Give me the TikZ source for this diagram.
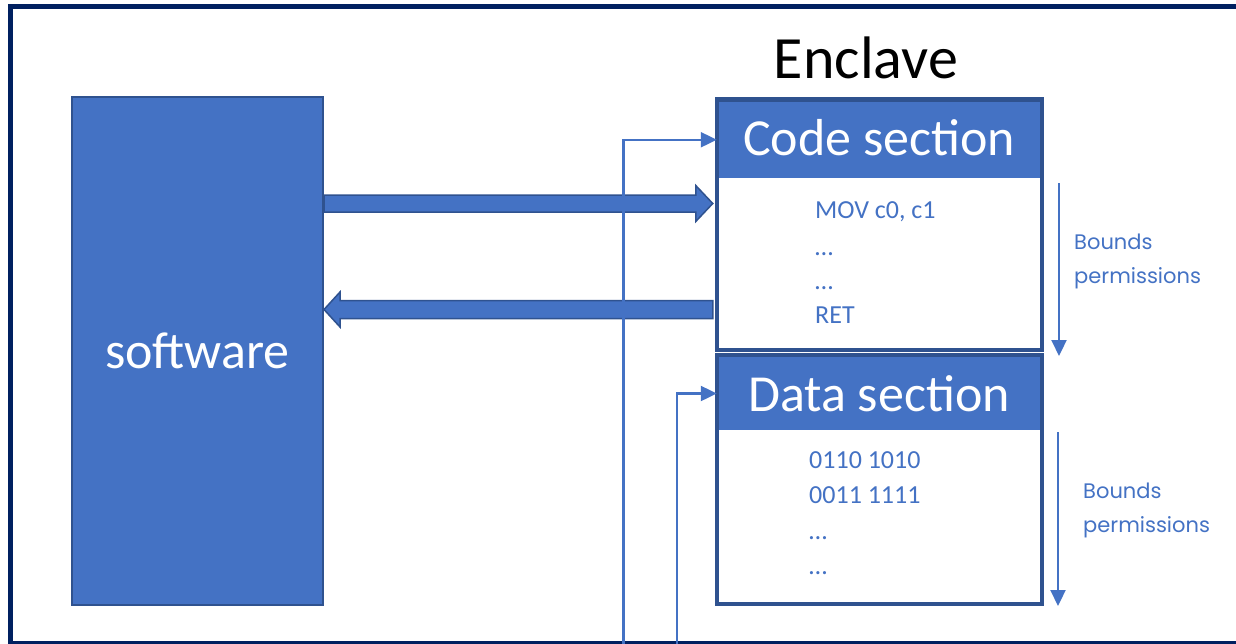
\documentclass[tikz,border=0pt]{standalone}
\usepackage{fontspec}
\setmainfont{Carlito}
\newfontfamily\boundsfont{Poppins}
\usetikzlibrary{arrows.meta,calc}
\definecolor{accent}{HTML}{4472C4}
\definecolor{accentdark}{HTML}{2F528F}
\definecolor{navy}{HTML}{002060}
\tikzset{
  blockbox/.style={draw=accentdark, line width=2pt, fill=accent, inner sep=0pt},
  secframe/.style={draw=accentdark, line width=4.5pt, fill=white, inner sep=0pt},
  sechead/.style={fill=accent, inner sep=0pt, text=white,
    font=\fontsize{52}{60}\selectfont},
  codeline/.style={anchor=base west, inner sep=0pt, text=accent,
    font=\fontsize{26}{30}\selectfont},
  boundslabel/.style={anchor=base west, inner sep=0pt, text=accent,
    font=\boundsfont\fontsize{21}{24}\selectfont},
  blockarrow/.style={draw=accentdark, line width=1.5pt, fill=accent, line join=miter},
  thinarrow/.style={draw=accent, line width=2.2pt,
    -{Triangle[length=16pt,width=15pt]}},
}
\begin{document}
\begin{tikzpicture}[x=1pt,y=-1pt]
\useasboundingbox (0,0) rectangle (1236,643);

% outer frame (runs past the right edge)
\draw[navy, line width=5pt] (1260,6.5) -- (10.5,6.5) -- (10.5,643.5) -- (1260,643.5);

% software block
\node[blockbox, minimum width=251pt, minimum height=508pt, text=white,
      font=\fontsize{52}{60}\selectfont] (software) at (197.5,351) {software};

% enclave title
\node[inner sep=0pt, anchor=base, font=\fontsize{60}{70}\selectfont] (enclave) at (866,78) {Enclave};

% code section
\node[secframe, minimum width=325pt, minimum height=250.5pt] (codesec) at (879.5,224.75) {};
\node[sechead, minimum width=321pt, minimum height=76.5pt] (codehead) at (879.5,139.75) {};
\node[inner sep=0pt, anchor=base, text=white, font=\fontsize{52}{60}\selectfont] at (879,155) {Code section};
\node[codeline] (c1) at (815,218) {MOV c0, c1};
\node[codeline] (c2) at (815,255) {…};
\node[codeline] (c3) at (815,289) {…};
\node[codeline] (c4) at (815,323) {RET};

% data section
\node[secframe, minimum width=325pt, minimum height=249pt] (datasec) at (879.5,479.5) {};
\node[sechead, minimum width=321pt, minimum height=73pt] (datahead) at (879.5,393.5) {};
\node[inner sep=0pt, anchor=base, text=white, font=\fontsize{52}{60}\selectfont] at (879,411) {Data section};
\node[codeline] (d1) at (809,468) {0110 1010};
\node[codeline] (d2) at (809,503) {0011 1111};
\node[codeline] (d3) at (809,539) {…};
\node[codeline] (d4) at (809,574) {…};

% call into the enclave and return
\coordinate (callrow) at (0,203.5);
\coordinate (retrow) at (0,309.5);
\coordinate (a1s) at (software.east |- callrow);
\coordinate (a1e) at ($(codesec.west |- callrow)+(-2,0)$);
\draw[blockarrow] ($(a1s)+(0,-8.5)$) -- ($(a1e)+(-17,-8.5)$) -- ($(a1e)+(-17,-18)$)
  -- (a1e) -- ($(a1e)+(-17,18)$) -- ($(a1e)+(-17,8.5)$) -- ($(a1s)+(0,8.5)$) -- cycle;
\coordinate (a2s) at ($(codesec.west |- retrow)+(-2,0)$);
\coordinate (a2e) at (software.east |- retrow);
\draw[blockarrow] ($(a2s)+(0,-9)$) -- ($(a2e)+(16,-9)$) -- ($(a2e)+(16,-17.5)$)
  -- (a2e) -- ($(a2e)+(16,17.5)$) -- ($(a2e)+(16,9)$) -- ($(a2s)+(0,9)$) -- cycle;

% capability pointers from below
\coordinate (p1) at (623.5,645);
\coordinate (p2) at (677,645);
\draw[thinarrow, shorten >=2pt] (p1) |- (codehead.west);
\draw[thinarrow, shorten >=2pt] (p2) |- (datahead.west);

% bounds / permissions ranges
\coordinate (b1t) at (1059,183);
\coordinate (b1b) at (1059,356);
\coordinate (b2t) at (1058,432);
\coordinate (b2b) at (1058,606);
\draw[thinarrow] (b1t) -- (b1b);
\draw[thinarrow] (b2t) -- (b2b);
\node[boundslabel] (bl1) at (1074,249) {Bounds};
\node[boundslabel] (bl2) at (1074,283) {permissions};
\node[boundslabel] (bl3) at (1083,498) {Bounds};
\node[boundslabel] (bl4) at (1083,532) {permissions};
\end{tikzpicture}
\end{document}
